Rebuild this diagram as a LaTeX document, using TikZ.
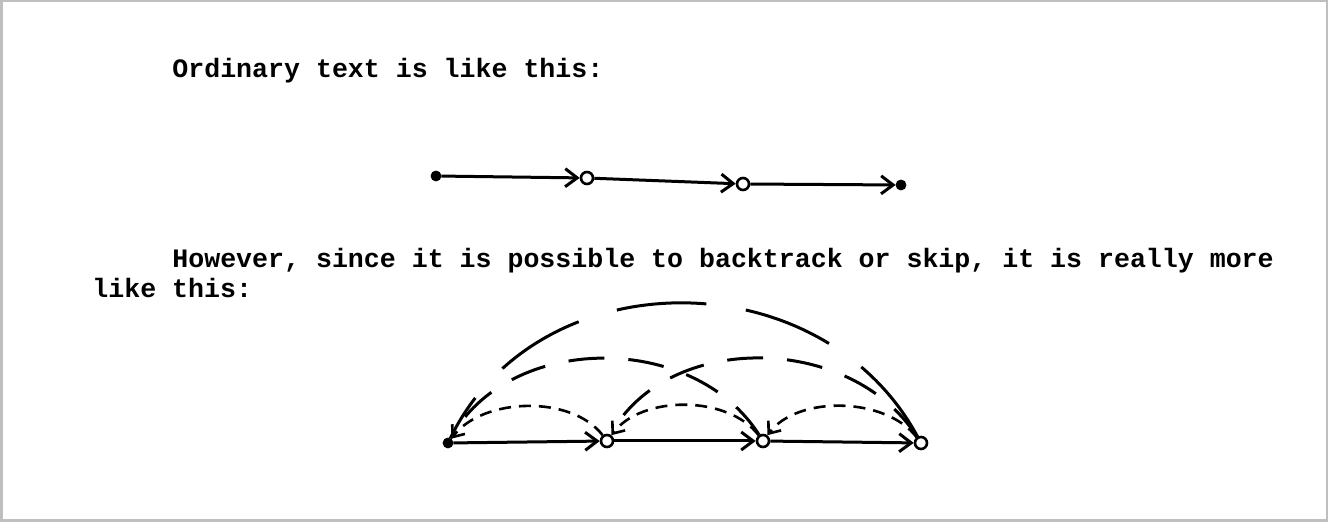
\documentclass[tikz,border=0pt]{standalone}
\usepackage{fontspec}
\setmonofont{Liberation Mono}
\usetikzlibrary{arrows.meta}

\begin{document}
\begin{tikzpicture}[x=0.5pt, y=-0.5pt,
    txt/.style={anchor=base west, inner sep=0, font=\fontsize{13.3}{15}\selectfont\ttfamily\bfseries},
    dot/.style={draw, circle, fill, inner sep=0, minimum size=5pt},
    ring/.style={draw, circle, inner sep=0, minimum size=6pt, line width=1.3pt},
    flow/.style={-{Straight Barb[length=6pt, width=9pt]}, line width=1.5pt},
    hop/.style={-{Straight Barb[length=5pt, width=8pt]}, line width=1.3pt, dash pattern=on 6pt off 4pt},
    skip/.style={line width=1.5pt, dash pattern=on 18pt off 12pt},
    jump/.style={line width=1.5pt, dash pattern=on 45pt off 20pt}]
    \useasboundingbox (0,0) rectangle (1328,522);
    \draw[gray!50, line width=1.5pt] (1,1) rectangle (1327,521);

    % text
    \node[txt] (t1) at (172,78) {Ordinary text is like this:};
    \node[txt] (t2) at (172,268) {However, since it is possible to backtrack or skip, it is really more};
    \node[txt] (t3) at (92,298) {like this:};

    % straight reading
    \node[dot] (a1) at (436,176) {};
    \node[ring] (a2) at (587,178) {};
    \node[ring] (a3) at (743,184) {};
    \node[dot] (a4) at (901,185) {};
    \draw[flow] (a1) -- (a2);
    \draw[flow] (a2) -- (a3);
    \draw[flow] (a3) -- (a4);

    % backtrack and skip
    \node[dot] (b1) at (448,443) {};
    \node[ring] (b2) at (607,441) {};
    \node[ring] (b3) at (763,441) {};
    \node[ring] (b4) at (921,443) {};
    \draw[flow] (b1) -- (b2);
    \draw[flow] (b2) -- (b3);
    \draw[flow] (b3) -- (b4);

    \draw[hop] (b2) .. controls +(-35,-46) and +(35,-46) .. (b1);
    \draw[hop] (b3) .. controls +(-35,-46) and +(35,-46) .. (b2);
    \draw[hop] (b4) .. controls +(-35,-46) and +(35,-46) .. (b3);
    \draw[skip] (b3) .. controls +(-70,-110) and +(60,-110) .. (b1);
    \draw[skip] (b4) .. controls +(-70,-110) and +(60,-110) .. (b2);
    \draw[jump] (b4) .. controls +(-100,-185) and +(90,-185) .. (b1);
\end{tikzpicture}
\end{document}
